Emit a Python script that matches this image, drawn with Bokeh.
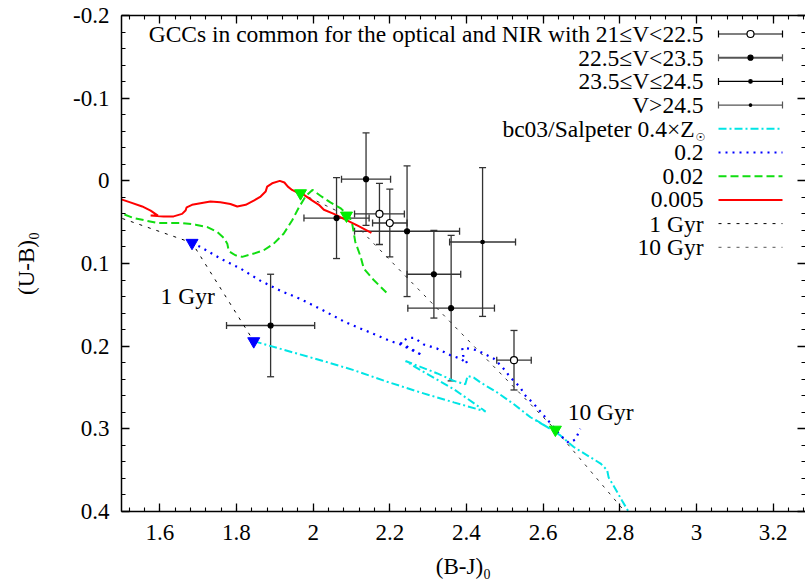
import numpy as np
from bokeh.plotting import figure
from bokeh.models import Range1d, LinearAxis, FixedTicker, Whisker, TeeHead, ColumnDataSource
from bokeh.core.properties import value
from bokeh.embed import file_html
from bokeh.resources import INLINE

# ---------------- data ----------------
X_TICKS = [1.6, 1.8, 2.0, 2.2, 2.4, 2.6, 2.8, 3.0, 3.2]
X_TICK_LABELS = ["1.6", "1.8", "2", "2.2", "2.4", "2.6", "2.8", "3", "3.2"]
Y_TICKS = [-0.2, -0.1, 0.0, 0.1, 0.2, 0.3, 0.4]
Y_TICK_LABELS = ["-0.2", "-0.1", "0", "0.1", "0.2", "0.3", "0.4"]
X_LABEL = "(B-J)\u2080"
Y_LABEL = "(U-B)\u2080"

# GCCs, 21<=V<22.5 (open circles)
g1_x = [2.173, 2.200, 2.524]
g1_y = [0.040, 0.051, 0.217]
g1_xe = [0.065, 0.045, 0.045]
g1_ye = [0.037, 0.041, 0.036]
# 22.5<=V<23.5 (big filled)
g2_x = [2.138, 2.061, 2.245, 2.315, 2.360, 1.889]
g2_y = [-0.002, 0.045, 0.061, 0.113, 0.154, 0.175]
g2_xe = [0.064, 0.085, 0.137, 0.070, 0.113, 0.115]
g2_ye = [0.056, 0.049, 0.079, 0.053, 0.088, 0.062]
# 23.5<=V<=24.5 (medium dot)
g3_x = [2.442]
g3_y = [0.074]
g3_xe = [0.086]
g3_ye = [0.090]
# V>24.5 (small dot)
g4_x = []
g4_y = []
g4_xe = []
g4_ye = []

# bc03 / Salpeter tracks
z04_x = [1.845, 2.019, 2.106, 2.193, 2.280, 2.367, 2.450, 2.367, 2.280, 2.241, 2.280, 2.324,
         2.367, 2.397, 2.403, 2.419, 2.437, 2.480, 2.523, 2.567, 2.611, 2.580, 2.611, 2.645,
         2.680, 2.715, 2.750, 2.767, 2.771, 2.789, 2.806, 2.824]
z04_y = [0.194, 0.217, 0.229, 0.243, 0.256, 0.268, 0.279, 0.252, 0.229, 0.218, 0.225, 0.233,
         0.242, 0.246, 0.236, 0.238, 0.244, 0.256, 0.270, 0.286, 0.298, 0.289, 0.298, 0.308,
         0.322, 0.332, 0.342, 0.350, 0.359, 0.373, 0.387, 0.401]

z02_x = [1.684, 1.706, 1.758, 1.810, 1.863, 1.915, 1.967, 2.019, 2.084, 2.141, 2.197, 2.228,
         2.285, 2.228, 2.247, 2.264, 2.289, 2.324, 2.358, 2.384, 2.402, 2.391, 2.389, 2.406,
         2.428, 2.450, 2.471, 2.493, 2.515, 2.541, 2.550, 2.576, 2.602, 2.624, 2.645, 2.667,
         2.684, 2.693, 2.697]
z02_y = [0.075, 0.080, 0.094, 0.106, 0.121, 0.133, 0.143, 0.155, 0.171, 0.182, 0.193, 0.198,
         0.211, 0.196, 0.190, 0.190, 0.198, 0.203, 0.211, 0.215, 0.221, 0.211, 0.202, 0.203,
         0.205, 0.210, 0.215, 0.225, 0.238, 0.250, 0.258, 0.270, 0.284, 0.296, 0.308, 0.317,
         0.313, 0.304, 0.300]

z002_x = [1.480, 1.497, 1.532, 1.563, 1.593, 1.628, 1.658, 1.693, 1.724, 1.750, 1.767, 1.776,
          1.780, 1.797, 1.815, 1.845, 1.871, 1.897, 1.923, 1.945, 1.963, 1.980, 1.998, 2.019,
          2.045, 2.071, 2.093, 2.102, 2.110, 2.124, 2.132, 2.158, 2.191]
z002_y = [0.034, 0.039, 0.045, 0.048, 0.051, 0.051, 0.051, 0.053, 0.056, 0.062, 0.069, 0.076,
          0.085, 0.090, 0.092, 0.088, 0.084, 0.076, 0.064, 0.048, 0.032, 0.019, 0.011, 0.018,
          0.026, 0.033, 0.042, 0.052, 0.074, 0.092, 0.106, 0.120, 0.135]

z0005_x = [1.480, 1.497, 1.523, 1.554, 1.576, 1.595, 1.576, 1.610, 1.636, 1.658, 1.667, 1.670,
           1.684, 1.706, 1.732, 1.758, 1.784, 1.802, 1.824, 1.845, 1.863, 1.876, 1.880, 1.893,
           1.913, 1.925, 1.934, 1.945, 1.967, 1.976, 1.998, 2.015, 2.028, 2.054, 2.084, 2.115,
           2.152]
z0005_y = [0.017, 0.022, 0.026, 0.031, 0.036, 0.042, 0.042, 0.043, 0.043, 0.040, 0.036, 0.032,
           0.029, 0.027, 0.025, 0.026, 0.028, 0.031, 0.029, 0.024, 0.019, 0.013, 0.007, 0.003,
           0.000, 0.002, 0.007, 0.011, 0.016, 0.017, 0.024, 0.029, 0.035, 0.040, 0.047, 0.054,
           0.063]

# isochrones
gyr1_x = [1.480, 1.684, 1.845]
gyr1_y = [0.042, 0.075, 0.194]
gyr10_x = [1.967, 2.087, 2.632, 2.815]
gyr10_y = [0.015, 0.042, 0.301, 0.401]

# age markers
blue_tri_x = [1.684, 1.845]
blue_tri_y = [0.075, 0.194]
green_tri_x = [1.967, 2.087, 2.632]
green_tri_y = [0.015, 0.042, 0.301]

ANNOT_TEXT = ["1 Gyr", "10 Gyr"]
ANNOT_X = [1.602, 2.664]
ANNOT_Y = [0.139, 0.280]

LEGEND_LABELS = ["GCCs in common for the optical and NIR with 21\u2264V<22.5",
                 "22.5\u2264V<23.5", "23.5\u2264V\u226424.5", "V>24.5",
                 "bc03/Salpeter 0.4\u00d7Z", "0.2", "0.02", "0.005", "1 Gyr", "10 Gyr"]

# ---------------- figure ----------------
FONT = "Liberation Serif"
FW, FH = 684, 496
X0, X1, Y0, Y1 = 1.5, 3.2845, 0.4, -0.2

p = figure(width=805, height=581, x_range=Range1d(X0, X1), y_range=Range1d(Y0, Y1),
           output_backend="svg", toolbar_location=None, x_axis_type=None, y_axis_type=None,
           min_border_left=121, min_border_right=0, min_border_top=15, min_border_bottom=70)
p.outline_line_color = None
p.background_fill_color = "white"
p.border_fill_color = "white"

xminor = list(np.round(np.arange(1.52, 3.30, 0.04), 2))
yminor = list(np.round(np.arange(-0.2, 0.401, 0.02), 2))
xt = FixedTicker(ticks=X_TICKS, minor_ticks=xminor)
yt = FixedTicker(ticks=Y_TICKS, minor_ticks=yminor)


def style_axis(ax, labels):
    ax.axis_line_color = "black"
    ax.axis_line_width = 1.5
    ax.major_tick_in = 8
    ax.major_tick_out = 0
    ax.minor_tick_in = 4
    ax.minor_tick_out = 0
    ax.major_tick_line_width = 1.3
    ax.minor_tick_line_width = 1.1
    ax.major_tick_line_color = "black"
    ax.minor_tick_line_color = "black"
    ax.major_label_text_font = FONT
    ax.major_label_text_color = "black"
    if labels:
        ax.major_label_text_font_size = "23px"
    else:
        ax.major_label_text_font_size = "0px"
        ax.major_label_standoff = 0


bottom = LinearAxis(ticker=xt, major_label_overrides=dict(zip(X_TICKS, X_TICK_LABELS)))
style_axis(bottom, True)
bottom.major_label_standoff = 13
bottom.axis_label = X_LABEL
bottom.axis_label_text_font = FONT
bottom.axis_label_text_font_size = "23px"
bottom.axis_label_text_font_style = "normal"
bottom.axis_label_text_color = "black"
bottom.axis_label_standoff = 11
p.add_layout(bottom, "below")

left = LinearAxis(ticker=yt, major_label_overrides=dict(zip(Y_TICKS, Y_TICK_LABELS)))
style_axis(left, True)
left.major_label_standoff = 12
left.axis_label = Y_LABEL
left.axis_label_text_font = FONT
left.axis_label_text_font_size = "23px"
left.axis_label_text_font_style = "normal"
left.axis_label_text_color = "black"
left.axis_label_standoff = 31
p.add_layout(left, "left")

top = LinearAxis(ticker=xt, major_label_overrides={t: "" for t in X_TICKS})
style_axis(top, False)
p.add_layout(top, "above")

right = LinearAxis(ticker=yt, major_label_overrides={t: "" for t in Y_TICKS})
style_axis(right, False)
right.axis_line_color = None
p.add_layout(right, "right")

# ---------------- model tracks ----------------
p.line(gyr1_x, gyr1_y, line_color="black", line_width=1, line_dash="3 6")
p.line(gyr10_x, gyr10_y, line_color="#333333", line_width=1, line_dash="3 6")
p.line(z04_x, z04_y, line_color="#00e5e5", line_width=2, line_dash="8 3 2 3")
p.line(z02_x, z02_y, line_color="#0000ff", line_width=2.2, line_dash="2 5")
p.line(z002_x, z002_y, line_color="#11dd11", line_width=2, line_dash="8 4")
p.line(z0005_x, z0005_y, line_color="#ff0000", line_width=2)

p.scatter(blue_tri_x, blue_tri_y, marker="inverted_triangle", size=12, fill_color="#0000ff",
          line_color="#0000ff")
p.scatter(green_tri_x, green_tri_y, marker="inverted_triangle", size=12, fill_color="#00ee00",
          line_color="#00ee00")

# ---------------- GCC data ----------------
EB_COLOR = "#333333"
groups = [
    (g1_x, g1_y, g1_xe, g1_ye, 7, "white"),
    (g2_x, g2_y, g2_xe, g2_ye, 5, "black"),
    (g3_x, g3_y, g3_xe, g3_ye, 3.5, "black"),
    (g4_x, g4_y, g4_xe, g4_ye, 2.5, "black"),
]
for gx, gy, gxe, gye, sz, fc in groups:
    gx = np.array(gx, dtype=float)
    gy = np.array(gy, dtype=float)
    gxe = np.array(gxe, dtype=float)
    gye = np.array(gye, dtype=float)
    src = ColumnDataSource(dict(x=gx, y=gy, xl=gx - gxe, xu=gx + gxe, yl=gy - gye, yu=gy + gye))
    for dim, base, lo, hi in (("width", "y", "xl", "xu"), ("height", "x", "yl", "yu")):
        w = Whisker(source=src, base=base, lower=lo, upper=hi, dimension=dim,
                    line_color=EB_COLOR, line_width=1.3,
                    lower_head=TeeHead(size=7, line_color=EB_COLOR, line_width=1.3),
                    upper_head=TeeHead(size=7, line_color=EB_COLOR, line_width=1.3))
        p.add_layout(w)
    p.scatter("x", "y", source=src, marker="circle", size=sz, fill_color=fc, line_color="black",
              line_width=1.2)

# ---------------- annotations ----------------
p.text(ANNOT_X, ANNOT_Y, text=ANNOT_TEXT, text_font=value(FONT), text_font_size="23.5px",
       text_color="black", text_align="left", text_baseline="alphabetic")

# ---------------- legend (frame pixel coordinates) ----------------
p.extra_x_ranges = {"lx": Range1d(0, FW)}
p.extra_y_ranges = {"ly": Range1d(FH, 0)}
LEG_TOP, LEG_STEP = 18.5, 23.7
TXT_R, S0, S1 = 582, 597, 661
SC = (S0 + S1) / 2
rows = [LEG_TOP + LEG_STEP * i for i in range(len(LEGEND_LABELS))]
kw = dict(x_range_name="lx", y_range_name="ly")

txt_x = [TXT_R] * len(LEGEND_LABELS)
txt_x[4] = TXT_R - 9
p.text(txt_x, rows, text=LEGEND_LABELS, text_font=value(FONT), text_font_size="23.5px",
       text_color="black", text_align="right", text_baseline="middle", **kw)
p.text([TXT_R - 8], [rows[4] + 9], text=["\u2609"], text_font=value("DejaVu Sans"),
       text_font_size="11px", text_color="black", text_align="left", text_baseline="middle", **kw)

leg_eb = [("white", 7, "black", 1.2), ("black", 5, "#555555", 2.0),
          ("black", 3.5, "black", 1.2), ("black", 2.5, "#555555", 1.4)]
for i, (fc, sz, lc, lw) in enumerate(leg_eb):
    yy = rows[i]
    p.segment([S0], [yy], [S1], [yy], line_color=lc, line_width=lw, **kw)
    p.segment([S0, S1], [yy - 3.5, yy - 3.5], [S0, S1], [yy + 3.5, yy + 3.5],
              line_color=lc, line_width=1.2, **kw)
    p.scatter([SC], [yy], marker="circle", size=sz, fill_color=fc, line_color="black",
              line_width=1.2, **kw)

leg_lines = [("#00e5e5", 2, "8 3 2 3"), ("#0000ff", 2.2, "2 5"), ("#11dd11", 2, "8 4"),
             ("#ff0000", 2, "solid"), ("black", 1, "3 6"), ("#555555", 1, "3 6")]
for j, (c, lw, dash) in enumerate(leg_lines):
    yy = rows[4 + j]
    p.line([S0, S1], [yy, yy], line_color=c, line_width=lw, line_dash=dash, **kw)

open("out.html", "w").write(file_html(p, INLINE))
